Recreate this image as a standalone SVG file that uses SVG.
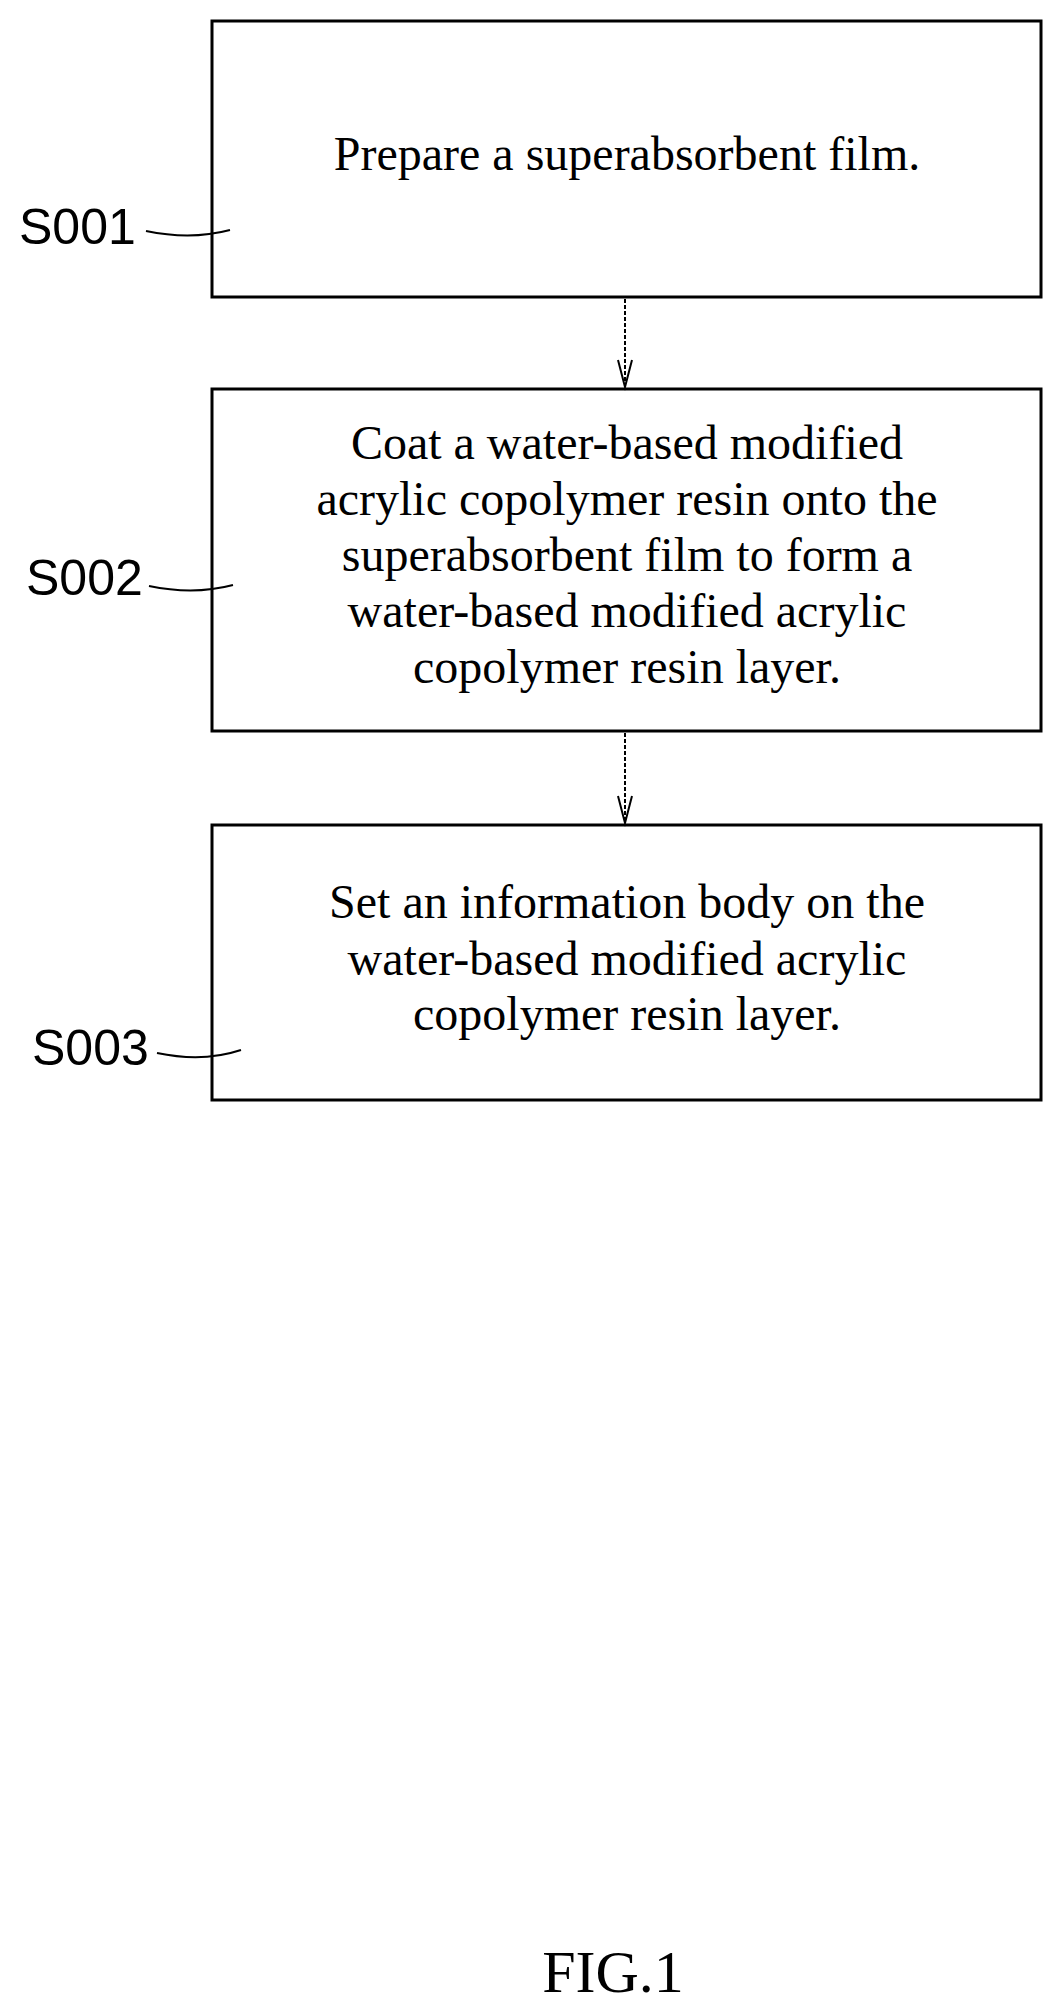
<svg xmlns="http://www.w3.org/2000/svg" width="1064" height="2013" viewBox="0 0 1064 2013">
<style>
.box{fill:#fff;stroke:#000;stroke-width:3}
.t{font-family:"Liberation Serif",serif;font-size:48px;text-anchor:middle;fill:#000}
.lb{font-family:"Liberation Sans",sans-serif;font-size:50px;fill:#000}
.ld{fill:none;stroke:#000;stroke-width:2}
.c{fill:none;stroke:#000;stroke-width:2;stroke-dasharray:4 2}
.ah{fill:none;stroke:#000;stroke-width:2}
</style>
<rect width="1064" height="2013" fill="#fff"/>
<g id="n1"><rect class="box" x="212" y="21" width="829" height="276"/><text class="t" x="627" y="170">Prepare a superabsorbent film.</text></g>
<g id="n2"><rect class="box" x="212" y="389" width="829" height="342"/>
<text class="t" x="627" y="459">Coat a water-based modified</text>
<text class="t" x="627" y="515">acrylic copolymer resin onto the</text>
<text class="t" x="627" y="571">superabsorbent film to form a</text>
<text class="t" x="627" y="627">water-based modified acrylic</text>
<text class="t" x="627" y="683">copolymer resin layer.</text></g>
<g id="n3"><rect class="box" x="212" y="825" width="829" height="275"/>
<text class="t" x="627" y="918">Set an information body on the</text>
<text class="t" x="627" y="975">water-based modified acrylic</text>
<text class="t" x="627" y="1030">copolymer resin layer.</text></g>
<g id="labels">
<text class="lb" x="19" y="244">S001</text>
<path class="ld" d="M146,231 C170,236 200,238 230,230"/>
<text class="lb" x="26" y="595">S002</text>
<path class="ld" d="M149,586 C173,591 203,593 233,585"/>
<text class="lb" x="32" y="1065">S003</text>
<path class="ld" d="M157,1053 C181,1058 211,1060 241,1050"/>
</g>
<g id="connectors">
<line class="c" x1="625" y1="299" x2="625" y2="387"/>
<path class="ah" d="M618,360 L625,387 L632,360"/>
<line class="c" x1="625" y1="733" x2="625" y2="823"/>
<path class="ah" d="M618,796 L625,823 L632,796"/>
</g>
<text x="613" y="1992" font-family="Liberation Serif,serif" font-size="60" text-anchor="middle">FIG.1</text>
</svg>
